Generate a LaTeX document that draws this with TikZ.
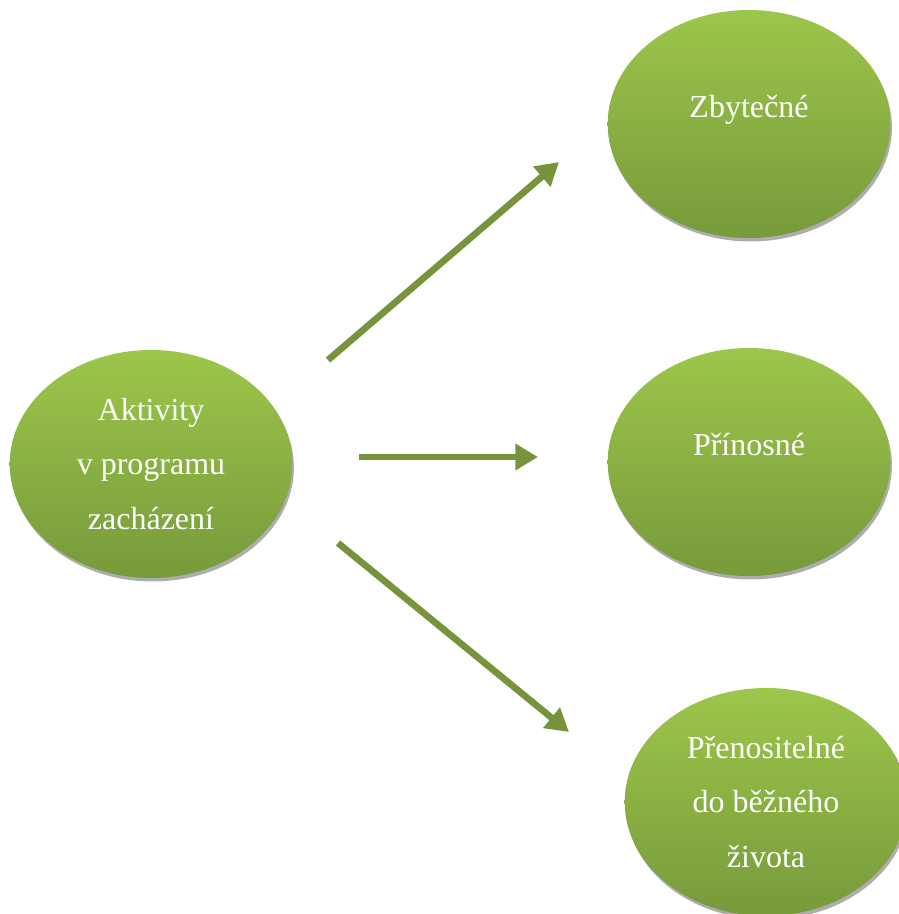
\documentclass[tikz,border=0pt]{standalone}
\usepackage{fontspec}
\setmainfont{Liberation Serif}
\usetikzlibrary{shapes.geometric,arrows.meta}

\definecolor{leaftop}{HTML}{9DC64B}
\definecolor{leafbot}{HTML}{779A3B}
\definecolor{olive}{HTML}{77933C}

\begin{document}
\begin{tikzpicture}[x=0.75pt,y=-0.75pt]
    \tikzset{
        bubble/.style = {ellipse, minimum width=212pt, minimum height=171pt, inner sep=0pt,
            top color=leaftop, bottom color=leafbot, draw=none, text=white, align=center,
            font=\fontsize{24}{41}\selectfont,
            preaction={fill=black!32, transform canvas={xshift=1.2pt, yshift=-2.6pt}}},
        lift/.style = {text depth=26pt},
        flow/.style = {draw=olive, line width=5pt, -{Triangle[width=19pt,length=17pt]}},
    }
    \useasboundingbox (0,0) rectangle (899,914);

    \node [bubble] (act) at (151,464) {Aktivity\\v programu\\zacházení};
    \node [bubble,lift] (zby) at (749,124) {Zbytečné};
    \node [bubble,lift] (pri) at (749,462) {Přínosné};
    \node [bubble] (pre) at (766,802) {Přenositelné\\do běžného\\života};

    \coordinate (s1) at (328,360);
    \coordinate (e1) at (559,162);
    \coordinate (s2) at (359,457);
    \coordinate (e2) at (538,457);
    \coordinate (s3) at (338,543);
    \coordinate (e3) at (569,732);

    \draw[flow] (s1) -- (e1);
    \draw[flow] (s2) -- (e2);
    \draw[flow] (s3) -- (e3);
\end{tikzpicture}
\end{document}
